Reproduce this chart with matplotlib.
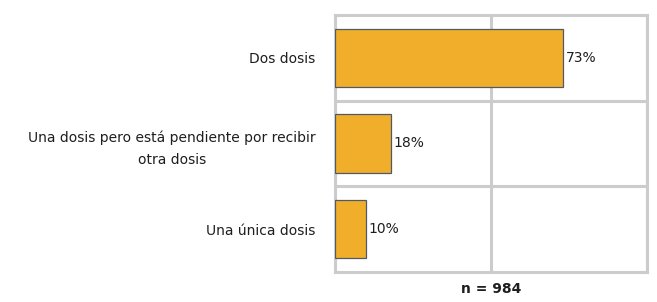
import matplotlib.pyplot as plt

# Data
categories = ['Dos dosis',
              'Una dosis pero está pendiente por recibir\notra dosis',
              'Una única dosis']
values = [73, 18, 10]
labels = ['73%', '18%', '10%']
n_text = 'n = 984'

plt.rcParams['font.family'] = ['DejaVu Sans']

fig = plt.figure(figsize=(6.57, 3.02), dpi=100)
ax = fig.add_axes([0.51, 0.10, 0.475, 0.85])

y = list(range(len(categories)))
bars = ax.barh(y, values, height=0.68, color='#F0AE2A',
               edgecolor='#4f5a66', linewidth=0.9, zorder=3)

# value labels
for bar, lab in zip(bars, labels):
    ax.text(bar.get_width() + 0.8, bar.get_y() + bar.get_height() / 2, lab,
            va='center', ha='left', fontsize=10, color='#1e1e1e')

ax.set_xlim(0, 100)
ax.set_ylim(len(categories) - 0.5, -0.5)
ax.set_yticks(y)
ax.set_yticklabels(categories, fontsize=10, color='#1e1e1e',
                   ha='right', multialignment='center', linespacing=1.75)
ax.tick_params(axis='y', length=0, pad=14)
ax.set_xticks([0, 50, 100])
ax.set_xticklabels([])
ax.tick_params(axis='x', length=0)

# category separators
ax.set_yticks([0.5, 1.5], minor=True)
ax.tick_params(axis='y', which='minor', length=0)
ax.grid(axis='y', which='minor', color='#cccccc', linewidth=2.2, zorder=0)
ax.grid(axis='x', which='major', color='#cccccc', linewidth=2.2, zorder=0)
for s in ax.spines.values():
    s.set_color('#cccccc')
    s.set_linewidth(2.2)

ax.text(0.5, -0.04, n_text, transform=ax.transAxes,
        ha='center', va='top', fontsize=10, fontweight='bold', color='#1e1e1e')

fig.savefig('out.png', dpi=100)
